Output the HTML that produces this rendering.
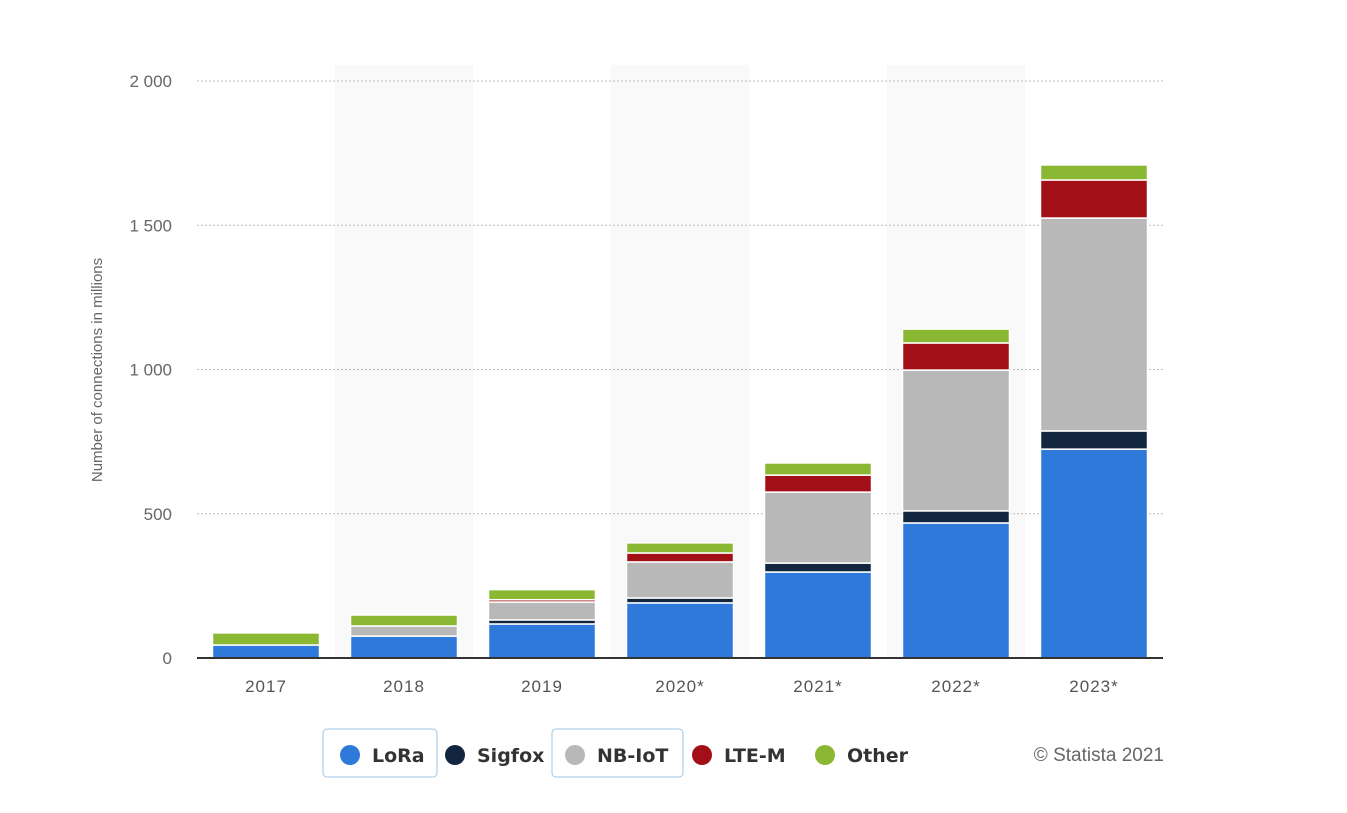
<!DOCTYPE html>
<html><head><meta charset="utf-8"><style>
body{margin:0;background:#fff;width:1347px;height:808px;overflow:hidden;font-family:"Liberation Sans",sans-serif}
</style></head><body>
<svg width="1347" height="808" id="c">
<text transform="translate(102,370) rotate(-90)" text-anchor="middle" font-size="15" fill="#666">Number of connections in millions</text>
<g id="bands"></g><g id="grid"></g><g id="bars"></g><g id="xl"></g>
<line x1="197" x2="1163" y1="658" y2="658" stroke="#333" stroke-width="2"/>
<g font-size="19" font-weight="bold" fill="#333" style="font-family:'DejaVu Sans',sans-serif">
<rect x="323" y="729" width="114" height="48" rx="4" fill="none" stroke="#9cc6e6"/>
<rect x="552" y="729" width="131" height="48" rx="4" fill="none" stroke="#9cc6e6"/>
<g><circle cx="350" cy="755" r="10" fill="#2e79d9"/><text x="372" y="762">LoRa</text></g>
<g><circle cx="455" cy="755" r="10" fill="#12263f"/><text x="477" y="762">Sigfox</text></g>
<g><circle cx="575" cy="755" r="10" fill="#b8b8b8"/><text x="597" y="762">NB-IoT</text></g>
<g><circle cx="702" cy="755" r="10" fill="#a30f16"/><text x="724" y="762">LTE-M</text></g>
<g><circle cx="825" cy="755" r="10" fill="#8ab832"/><text x="847" y="762">Other</text></g>
</g>
<text x="1164" y="761" text-anchor="end" font-size="19" fill="#666">© Statista 2021</text>
</svg>
<script>
const categories=["2017","2018","2019","2020*","2021*","2022*","2023*"];
const lora=[45,76,118,191,298,468,724];
const sigfox=[0,0,14,17,31,42,63];
const nbiot=[0,35,62,125,246,488,738];
const ltem=[0,0,8,31,59,94,132];
const other=[42,38,35,35,42,48,52];
const yTicks=[0,500,1000,1500,2000];
const yTickLabels=["0","500","1 000","1 500","2 000"];
const series=[["lora",lora,"#2e79d9"],["sigfox",sigfox,"#12263f"],["nbiot",nbiot,"#b8b8b8"],["ltem",ltem,"#a30f16"],["other",other,"#8ab832"]];
const X0=197,X1=1163,Y0=658,Ymax=2000,Ytop=81;
const bw=(X1-X0)/categories.length;
const y=v=>Y0-(v/Ymax)*(Y0-Ytop);
const ns="http://www.w3.org/2000/svg";
function mk(t,a,p){const e=document.createElementNS(ns,t);for(const k in a)e.setAttribute(k,a[k]);p.appendChild(e);return e;}
const bands=document.getElementById('bands'),grid=document.getElementById('grid'),bars=document.getElementById('bars'),xl=document.getElementById('xl');
categories.forEach((c,i)=>{if(i%2==1){const r=mk('rect',{x:X0+i*bw,y:65,width:bw,height:Y0-65,fill:'#f9f9f9'},bands);

}});
yTicks.forEach((t,i)=>{if(t>0){const l=mk('line',{x1:X0,x2:X1,y1:y(t),y2:y(t),stroke:'#bbb','stroke-dasharray':'2,2'},grid);

}
const tx=mk('text',{x:172,y:y(t)+6,'text-anchor':'end','font-size':'17',fill:'#666'},grid);


tx.textContent=yTickLabels[i];});
categories.forEach((c,i)=>{let acc=0;const x=X0+i*bw+15.5;
series.forEach(([n,arr,col])=>{const v=arr[i];if(v>0){const r=mk('rect',{x:x,y:y(acc+v),width:bw-31,height:y(acc)-y(acc+v),fill:col,stroke:'#fff','stroke-width':1.5},bars);

}acc+=v;});
const t=mk('text',{x:X0+i*bw+bw/2,y:692,'text-anchor':'middle','font-size':'17',fill:'#555','letter-spacing':'1'},xl);


t.textContent=c;});
</script>
</body></html>
